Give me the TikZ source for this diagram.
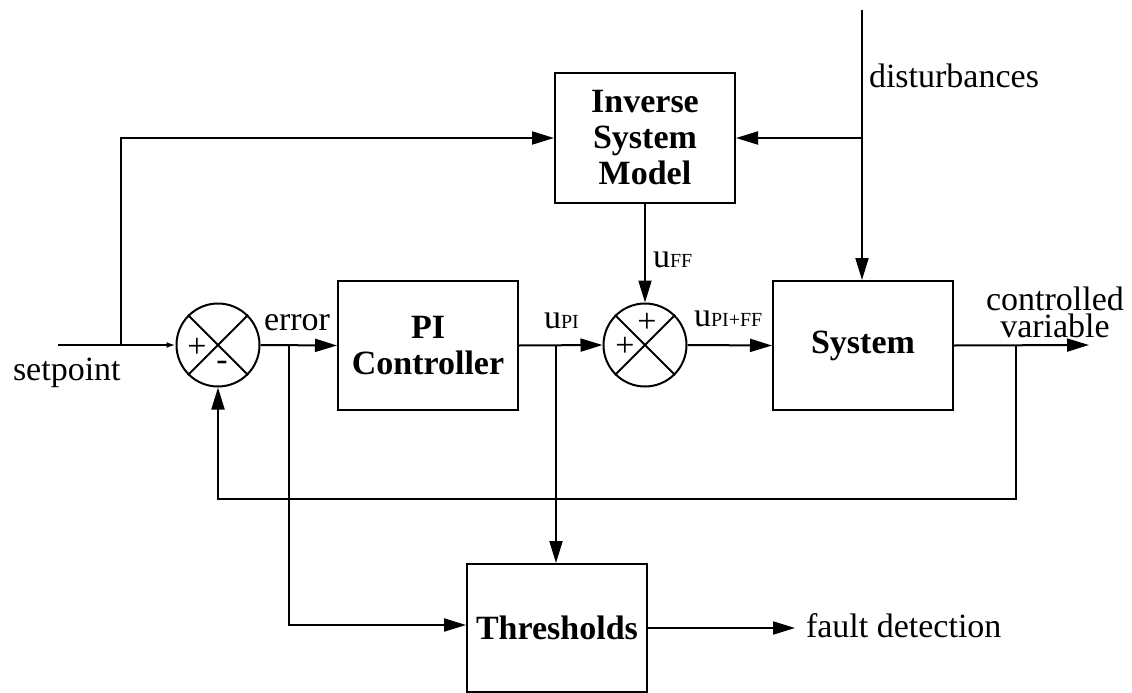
\documentclass[tikz,border=0pt]{standalone}
\usepackage{fontspec}
\setmainfont{Liberation Serif}
\usetikzlibrary{arrows.meta,calc}

\begin{document}
\begin{tikzpicture}[x=1pt,y=-1pt,line width=2pt,
  every node/.style={font=\fontsize{34}{35}\selectfont,inner sep=0pt},
  blk/.style={draw,align=center,minimum width=180pt,
    font=\bfseries\fontsize{34}{36}\selectfont},
  sumj/.style={draw,circle,minimum size=83pt},
  arr/.style={-{Triangle[length=22pt,width=13pt]}},
  thinarr/.style={-{Latex[length=9pt,width=6pt]}},
  sub/.style={font=\fontsize{20}{20}\selectfont}]
\useasboundingbox (0,0) rectangle (1132,693);

% blocks
\node[blk,minimum height=129pt] (pi)  at (428,345.5) {PI\\Controller};
\node[blk,minimum height=130pt] (ism) at (645,138)   {Inverse\\System\\Model};
\node[blk,minimum height=129pt] (sys) at (863,345.5) {System};
\node[blk,minimum height=128pt] (thr) at (557,628)   {Thresholds};

% summing junctions
\node[sumj] (s1) at (218,345) {};
\node[sumj] (s2) at (645,345) {};
\draw (s1.north west) -- (s1.south east) (s1.north east) -- (s1.south west);
\draw (s2.north west) -- (s2.south east) (s2.north east) -- (s2.south west);
\node (s1p) at (197,348) {+};
\node (s1m) at (222,366) {-};
\node (s2t) at (647,323) {+};
\node (s2l) at (625,347) {+};

% free ends and branch points
\coordinate (spin) at (58,345);
\coordinate (b1)   at (121,345);
\coordinate (b2)   at (289,345);
\coordinate (b3)   at (556,345);
\coordinate (dtop) at (862,10);
\coordinate (b4)   at (862,138);
\coordinate (b5)   at (1016,345);
\coordinate (fbr)  at (1016,499);
\coordinate (out)  at (1089,345);
\coordinate (fd)   at (795,628);

% connectors
\draw[thinarr] (spin) -- (s1.west);
\draw[arr] (b1) |- (ism.west);
\draw[arr] (s1.east) -- (pi.west);
\draw[arr] (b2) |- ([yshift=3pt]thr.west);
\draw[arr] (pi.east) -- (s2.west);
\draw[arr] (b3) -- (b3 |- thr.north);
\draw[arr] (ism.south) -- (s2.north);
\draw[arr] (s2.east) -- (sys.west);
\draw[arr] (dtop) -- (dtop |- sys.north);
\draw[arr] (b4) -- (ism.east);
\draw[arr] (sys.east) -- (out);
\draw[arr] (b5) -- (fbr) -| (s1.south);
\draw[arr] (thr.east) -- (fd);

% signal labels
\node[anchor=base west] (lsp)  at (12,380)  {setpoint};
\node[anchor=base west] (lerr) at (263,330) {error};
\node[anchor=base west] (lupi) at (543,328) {u{\fontsize{20}{20}\selectfont PI}};
\node[anchor=base west] (luff) at (652,267) {u{\fontsize{20}{20}\selectfont FF}};
\node[anchor=base west] (lusum) at (693,326) {u{\fontsize{20}{20}\selectfont PI+FF}};
\node[anchor=base west] (ldist) at (868,87) {disturbances};
\node[align=center,font=\fontsize{34}{27}\selectfont] (lcv) at (1055,312) {controlled\\variable};
\node[anchor=base west] (lfd) at (805,637) {fault detection};
\end{tikzpicture}
\end{document}
